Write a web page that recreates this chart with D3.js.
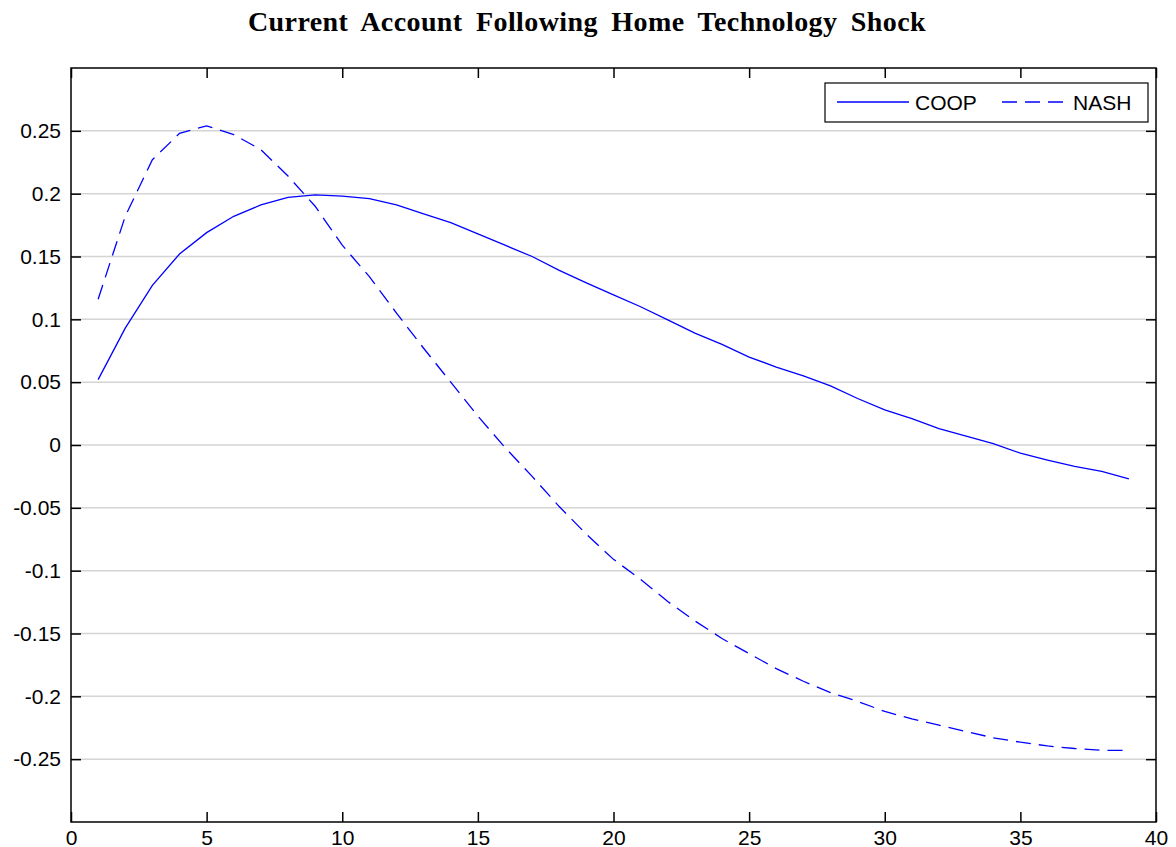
<!DOCTYPE html>
<html>
<head>
<meta charset="utf-8">
<script src="https://cdn.jsdelivr.net/npm/d3@7"></script>
<style>
  body { margin: 0; background: #fff; }
  svg { display: block; }
  .tick text { font-family: "Liberation Sans", Arial, sans-serif; font-size: 21px; fill: #000; }
  .legend text { font-family: "Liberation Sans", Arial, sans-serif; font-size: 21px; fill: #000; }
</style>
</head>
<body>
<div id="chart"></div>
<script>
const title = 'Current Account Following Home Technology Shock'

const periods = [1, 2, 3, 4, 5, 6, 7, 8, 9, 10, 11, 12, 13, 14, 15, 16, 17, 18, 19, 20,
  21, 22, 23, 24, 25, 26, 27, 28, 29, 30, 31, 32, 33, 34, 35, 36, 37, 38, 39]

const coop = [0.052, 0.093, 0.127, 0.152, 0.169, 0.182, 0.191, 0.197, 0.199, 0.198,
  0.196, 0.191, 0.184, 0.177, 0.168, 0.159, 0.150, 0.139, 0.129, 0.1195,
  0.110, 0.0996, 0.089, 0.080, 0.070, 0.062, 0.055, 0.047, 0.037, 0.028,
  0.021, 0.013, 0.007, 0.001, -0.0065, -0.012, -0.017, -0.021, -0.027]

const nash = [0.116, 0.182, 0.227, 0.248, 0.254, 0.247, 0.235, 0.214, 0.190, 0.159,
  0.134, 0.105, 0.077, 0.050, 0.023, -0.002, -0.025, -0.049, -0.071, -0.091,
  -0.107, -0.1245, -0.140, -0.154, -0.166, -0.178, -0.188, -0.197, -0.204, -0.212,
  -0.218, -0.223, -0.228, -0.233, -0.2365, -0.2395, -0.2415, -0.243, -0.243]

const xTicks = [0, 5, 10, 15, 20, 25, 30, 35, 40]
const yTicks = [-0.25, -0.2, -0.15, -0.1, -0.05, 0, 0.05, 0.1, 0.15, 0.2, 0.25]
const yTickLabels = ['-0.25', '-0.2', '-0.15', '-0.1', '-0.05', '0', '0.05', '0.1', '0.15', '0.2', '0.25']

const series = [
  { name: 'COOP', values: coop, dash: null },
  { name: 'NASH', values: nash, dash: '15,8' }
]

const width = 1176
const height = 847
const margin = { top: 68, right: 20, bottom: 25, left: 71 }
const plotW = 1156 - margin.left
const plotH = 822 - margin.top

const svg = d3.select('#chart')
  .append('svg')
  .attr('width', width)
  .attr('height', height)

// title is set wide, with somewhat larger gaps between words
const titleText = svg.append('text')
  .attr('x', 587)
  .attr('y', 31)
  .attr('text-anchor', 'middle')
  .style('font-family', '"Liberation Serif", "Times New Roman", serif')
  .style('font-weight', 'bold')
  .style('font-size', '28px')
  .style('letter-spacing', '0.4px')
  .text(title)

const baseLen = titleText.node().getComputedTextLength()
const gaps = title.split(' ').length - 1
titleText.style('word-spacing', Math.max(0, (678 - baseLen) / gaps) + 'px')

const g = svg.append('g')
  .attr('transform', `translate(${margin.left},${margin.top})`)

const x = d3.scaleLinear().domain([0, 40]).range([0, plotW])
const y = d3.scaleLinear().domain([-0.3, 0.3]).range([plotH, 0])

// horizontal grid
g.append('g')
  .selectAll('line')
  .data(yTicks)
  .enter().append('line')
  .attr('x1', 0)
  .attr('x2', plotW)
  .attr('y1', d => y(d))
  .attr('y2', d => y(d))
  .attr('stroke', '#d4d4d4')
  .attr('stroke-width', 1.5)

// axes with inward ticks
const styleAxis = sel => {
  sel.select('.domain').remove()
  sel.selectAll('.tick line').attr('stroke', '#000').attr('stroke-width', 1.5)
}

g.append('g')
  .attr('transform', `translate(0,${plotH})`)
  .call(d3.axisBottom(x).tickValues(xTicks).tickSizeInner(-10).tickSizeOuter(0).tickPadding(8))
  .call(styleAxis)

g.append('g')
  .call(d3.axisTop(x).tickValues(xTicks).tickSizeInner(-10).tickSizeOuter(0).tickFormat(''))
  .call(styleAxis)

g.append('g')
  .call(d3.axisLeft(y).tickValues(yTicks).tickSizeInner(-10).tickSizeOuter(0).tickPadding(10)
    .tickFormat((d, i) => yTickLabels[i]))
  .call(styleAxis)

g.append('g')
  .attr('transform', `translate(${plotW},0)`)
  .call(d3.axisRight(y).tickValues(yTicks).tickSizeInner(-10).tickSizeOuter(0).tickFormat(''))
  .call(styleAxis)

g.append('rect')
  .attr('width', plotW)
  .attr('height', plotH)
  .attr('fill', 'none')
  .attr('stroke', '#000')
  .attr('stroke-width', 1.5)

const line = d3.line()
  .x((d, i) => x(periods[i]))
  .y(d => y(d))

series.forEach(s => {
  g.append('path')
    .datum(s.values)
    .attr('d', line)
    .attr('fill', 'none')
    .attr('stroke', '#0000ff')
    .attr('stroke-width', 1.3)
    .attr('stroke-dasharray', s.dash)
})

// legend
const legend = svg.append('g')
  .attr('class', 'legend')
  .attr('transform', 'translate(825,83)')

legend.append('rect')
  .attr('width', 323)
  .attr('height', 39)
  .attr('fill', '#fff')
  .attr('stroke', '#000')
  .attr('stroke-width', 1.2)

const items = [
  { s: series[0], x0: 12, x1: 84, tx: 90 },
  { s: series[1], x0: 177, x1: 241, tx: 248 }
]

items.forEach(it => {
  legend.append('line')
    .attr('x1', it.x0)
    .attr('x2', it.x1)
    .attr('y1', 19)
    .attr('y2', 19)
    .attr('stroke', '#0000ff')
    .attr('stroke-width', 1.3)
    .attr('stroke-dasharray', it.s.dash)
  legend.append('text')
    .attr('x', it.tx)
    .attr('y', 27)
    .text(it.s.name)
})
</script>
</body>
</html>
